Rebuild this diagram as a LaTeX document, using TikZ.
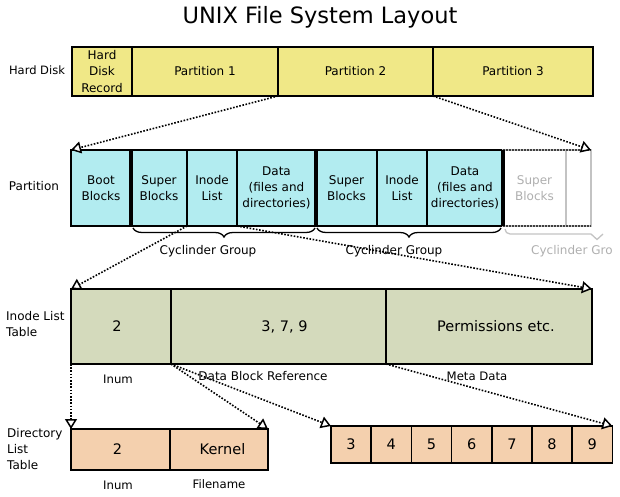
\documentclass[tikz,border=0pt]{standalone}
\usepackage{fontspec}
\setmainfont{DejaVu Sans}
\usetikzlibrary{arrows.meta,decorations.pathreplacing}
\definecolor{hdyellow}{RGB}{240,232,135}
\definecolor{ptcyan}{RGB}{178,236,240}
\definecolor{inodegreen}{RGB}{212,218,188}
\definecolor{dirpeach}{RGB}{244,208,174}
\definecolor{ghost}{RGB}{175,175,175}
\definecolor{ghostline}{RGB}{195,195,195}
\tikzset{
  txt/.style={font=\fontsize{12}{15.7}\selectfont, align=center, inner sep=0pt},
  bigtxt/.style={font=\fontsize{14.5}{17}\selectfont},
  cell/.style={txt, draw, line width=1.6pt, outer sep=0pt, anchor=north west},
  hdcell/.style={cell, fill=hdyellow, minimum height=49pt, font=\fontsize{12}{16.3}\selectfont},
  ptcell/.style={cell, fill=ptcyan, minimum height=76pt},
  ghostcell/.style={cell, fill=white, draw=ghostline, text=ghost, minimum height=76pt},
  incell/.style={cell, bigtxt, fill=inodegreen, minimum height=75pt},
  dircell/.style={cell, bigtxt, fill=dirpeach, minimum height=41pt},
  blkcell/.style={cell, bigtxt, fill=dirpeach, minimum height=37pt, minimum width=40.2pt},
  ptr/.style={dash pattern=on 1.6pt off 1.6pt, line width=1.6pt,
    -{Triangle[open, length=10pt, width=12pt, line width=1.5pt, fill=white]}},
  thickdiv/.style={line width=3.2pt},
  cbrace/.style={decorate, decoration={brace, mirror, amplitude=9pt}, line width=1.3pt},
}
\begin{document}
\begin{tikzpicture}[x=1pt,y=-1pt]
\useasboundingbox (0,0) rectangle (620,497);
\clip (0,0) rectangle (620,497);

% title
\node[txt, font=\fontsize{22.5}{26}\selectfont] (title) at (320,17) {UNIX File System Layout};

% Hard disk row
\node[txt, font=\fontsize{11.5}{14}\selectfont] (lhd) at (37,70) {Hard Disk};
\node[hdcell, minimum width=60pt] (hdr) at (72,47) {Hard\\Disk\\Record};
\node[hdcell, minimum width=146pt] (p1) at (132,47) {Partition 1};
\node[hdcell, minimum width=155pt] (p2) at (278,47) {Partition 2};
\node[hdcell, minimum width=160pt] (p3) at (433,47) {Partition 3};

% Partition row
\node[txt] (lpt) at (34,186) {Partition};
\node[ptcell, minimum width=60pt] (boot) at (71,150) {Boot\\Blocks};
\node[ptcell, minimum width=56pt] (sb1) at (131,150) {Super\\Blocks};
\node[ptcell, minimum width=50pt] (il1) at (187,150) {Inode\\List};
\node[ptcell, minimum width=79pt] (d1) at (237,150) {Data\\(files and\\directories)};
\node[ptcell, minimum width=61pt] (sb2) at (316,150) {Super\\Blocks};
\node[ptcell, minimum width=50pt] (il2) at (377,150) {Inode\\List};
\node[ptcell, minimum width=76pt] (d2) at (427,150) {Data\\(files and\\directories)};
\node[ghostcell, minimum width=63pt] (gsb) at (503,150) {Super\\Blocks};
\node[ghostcell, minimum width=25pt] (gx) at (566,150) {};
\draw[dash pattern=on 1.5pt off 1.5pt, line width=1.6pt, black!75] (gsb.north west) -- (gx.north east);
\draw[dash pattern=on 1.5pt off 1.5pt, line width=1.6pt, black!75] (gsb.south west) -- (gx.south east);
\draw[thickdiv] (boot.north east) -- (boot.south east);
\draw[thickdiv] (d1.north east) -- (d1.south east);
\draw[thickdiv] (d2.north east) -- (d2.south east);

% cylinder group braces
\draw[cbrace] (133,228) -- (315,228);
\draw[cbrace] (317,228) -- (501,228);
\draw[line width=1.3pt, ghostline] (505,229) to[out=-90,in=180] (510,234) -- (591,234) -- (597,239.5) -- (603,234);
\node[txt] (cg1) at (208,251) {Cyclinder Group};
\node[txt] (cg2) at (394,251) {Cyclinder Group};
\node[txt, text=ghost, anchor=west] (cg3) at (531,251) {Cyclinder Gro};

% Inode list table row
\node[txt, align=left, anchor=west] (lin) at (6,324) {Inode List\\Table};
\node[incell, minimum width=100pt] (inum) at (71,289) {2\hspace*{8pt}};
\node[incell, minimum width=215pt] (dbr) at (171,289) {\hspace*{12pt}3, 7, 9};
\node[incell, minimum width=206pt] (md) at (386,289) {\hspace*{14pt}Permissions etc.};
\node[txt, font=\fontsize{11.7}{14}\selectfont] (linum) at (118,379) {Inum};
\node[txt] (ldbr) at (263,376) {Data Block Reference};
\node[txt, font=\fontsize{11.7}{14}\selectfont] (lmd) at (477,376) {Meta Data};

% Directory list table row
\node[txt, align=left, anchor=west] (ldir) at (7,449) {Directory\\List\\Table};
\node[dircell, minimum width=99pt] (dinum) at (71,429) {2\hspace*{6pt}};
\node[dircell, minimum width=98pt] (fname) at (170,429) {\hspace*{7pt}Kernel};
\node[txt, font=\fontsize{11.7}{14}\selectfont] (ldinum) at (118,485) {Inum};
\node[txt, font=\fontsize{11.7}{14}\selectfont] (lfname) at (219,484) {Filename};

% data blocks
\node[blkcell] (b3) at (331,426) {3};
\node[blkcell] (b4) at (371.2,426) {4};
\node[blkcell] (b5) at (411.4,426) {5};
\node[blkcell] (b6) at (451.6,426) {6};
\node[blkcell] (b7) at (491.8,426) {7};
\node[blkcell] (b8) at (532,426) {8};
\node[blkcell] (b9) at (572.2,426) {9};

% pointers
\draw[ptr] (p1.south east) -- (boot.north west);
\draw[ptr] (p3.south west) -- (gx.north east);
\draw[ptr] (il1.south west) -- (inum.north west);
\draw[ptr] (d1.south west) -- (md.north east);
\draw[ptr] (inum.south west) -- (dinum.north west);
\draw[ptr] (inum.south east) -- (fname.north east);
\draw[ptr] (inum.south east) -- (b3.north west);
\draw[ptr] (md.south west) -- (b9.north east);
\end{tikzpicture}
\end{document}
